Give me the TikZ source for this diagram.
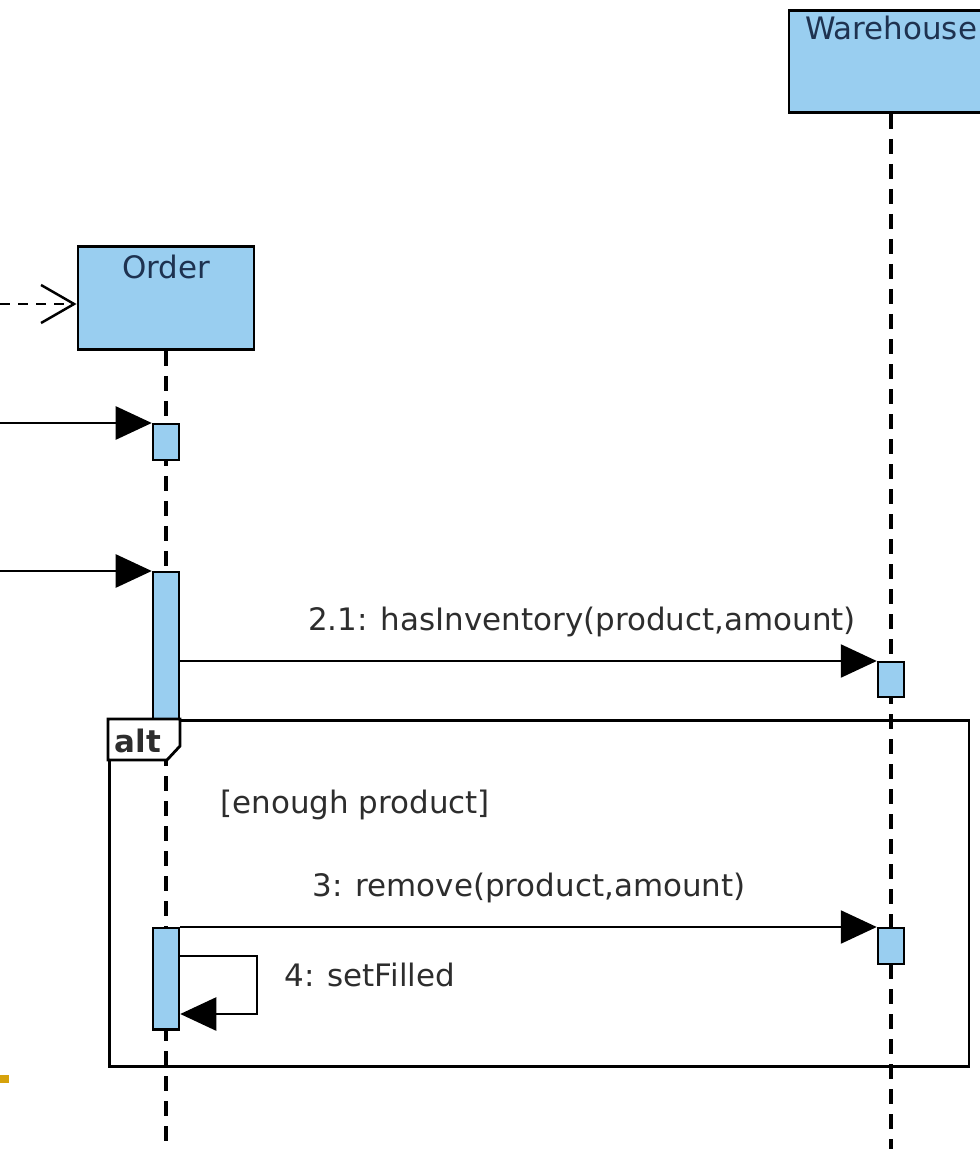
\documentclass[tikz,border=0pt]{standalone}
\usepackage{fontspec}
\setmainfont{DejaVu Sans}
\usetikzlibrary{arrows.meta, positioning}

\definecolor{lifeblue}{RGB}{153,206,240}
\definecolor{inkgrey}{RGB}{45,45,45}
\definecolor{objink}{RGB}{30,50,80}
\definecolor{slidegold}{RGB}{214,162,12}

\begin{document}
\begin{tikzpicture}[x=0.01cm, y=-0.01cm,
    every node/.style={font=\fontsize{8.8}{10}\selectfont, text=inkgrey},
    objbox/.style={draw, line width=0.8pt, fill=lifeblue, inner sep=0pt, text=objink},
    actbox/.style={draw, line width=0.7pt, fill=lifeblue, inner sep=0pt, minimum width=0.26cm},
    lifeline/.style={line width=0.9pt, dash pattern=on 0.15cm off 0.1cm},
    call/.style={-{Triangle[length=0.36cm, width=0.33cm]}, line width=0.7pt},
    ]

    \clip (0,0) rectangle (980,1149);

    %% Sequence of Order / Warehouse

    % Objects
    \node[objbox, minimum width=2.04cm, text height=0.29cm, text depth=0.73cm, anchor=north] (warehouse) at (891,9) {Warehouse};
    \node[objbox, minimum width=1.76cm, text height=0.32cm, text depth=0.71cm, anchor=north] (order) at (166,245) {Order};

    % Lifelines
    \coordinate (orderEnd) at (166,1149);
    \coordinate (warehouseEnd) at (891,1149);
    \draw[lifeline] (order.south) -- (orderEnd);
    \draw[lifeline] (warehouse.south) -- (warehouseEnd);

    % Alt frame
    \node[draw, line width=0.8pt, minimum width=8.59cm, minimum height=3.46cm, inner sep=0pt, anchor=north west] (altframe) at (108,719) {};

    % Activations
    \node[actbox, minimum height=0.36cm, anchor=north] (act1) at (166,423) {};
    \node[actbox, minimum height=1.48cm, anchor=north] (act2) at (166,571) {};
    \node[actbox, minimum height=1.01cm, anchor=north] (act3) at (166,927) {};
    \node[actbox, minimum height=0.35cm, anchor=north] (wact1) at (891,661) {};
    \node[actbox, minimum height=0.36cm, anchor=north] (wact2) at (891,927) {};

    % Alt tab
    \draw[line width=0.8pt, fill=white] (altframe.north west) -- ++(72,0) -- ++(0,27) -- ++(-13,14) -- ++(-59,0) -- cycle;
    \node[font=\fontsize{8.8}{10}\selectfont\bfseries] (altlabel) at (138,741) {alt};

    % Found messages
    \coordinate (in0) at (0,304);
    \coordinate (in1) at (0,423);
    \coordinate (in2) at (0,571);
    \draw[line width=0.7pt, dash pattern=on 0.1cm off 0.08cm, -{Straight Barb[length=0.33cm, width=0.38cm]}] (in0) -- (order.west |- in0);
    \draw[call] (in1) -- (act1.north west);
    \draw[call] (in2) -- (act2.north west);

    % Messages
    \draw[call] (wact1.north west -| act2.east) -- (wact1.north west);
    \node (msg21) at (582,622) {2.1: hasInventory(product,amount)};

    \node[anchor=west] (guard) at (208,805) {[enough product]};

    \draw[call] (wact2.north west -| act3.east) -- (wact2.north west);
    \node (msg3) at (529,888) {3: remove(product,amount)};

    % Self call
    \coordinate (loopA) at (257,956);
    \coordinate (loopB) at (257,1014);
    \draw[call] (act3.east |- loopA) -- (loopA) -- (loopB) -- (act3.east |- loopB);
    \node[anchor=west] (msg4) at (272,975) {4: setFilled};

    % Slide mark
    \coordinate (markA) at (0,1079);
    \coordinate (markB) at (9,1079);
    \draw[slidegold, line width=0.08cm] (markA) -- (markB);

\end{tikzpicture}
\end{document}
